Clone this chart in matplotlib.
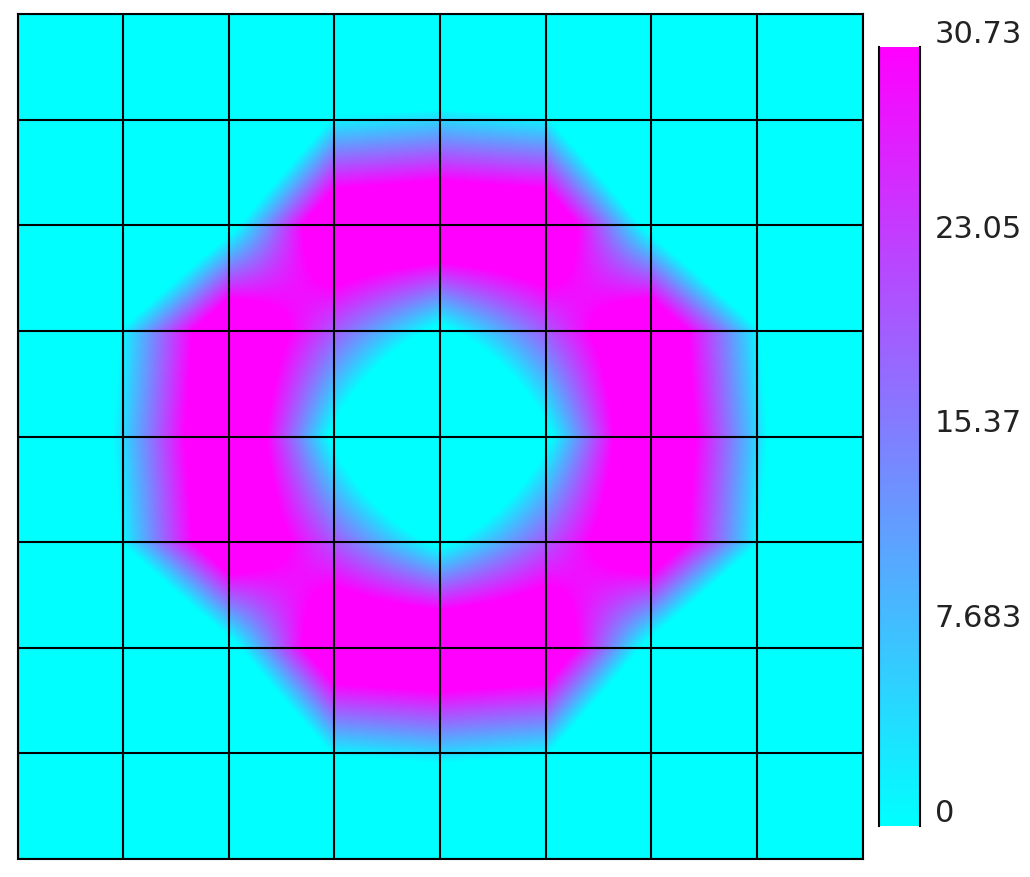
import numpy as np
import matplotlib
matplotlib.use("Agg")
import matplotlib.pyplot as plt

# field values at the 9x9 grid nodes (row lines top to bottom, column lines left to right)
nodes = [
    [-46, -46, -46, -46, -46, -46, -46, -46, -46],
    [-46, -46, -46, 1.5, 5, 1.5, -46, -46, -46],
    [-46, -46, -5, 46, 49, 46, -5, -46, -46],
    [-46, 1.5, 46, 20, -3, 20, 46, 1.5, -46],
    [-46, 5, 49, -3, -46, -3, 49, 5, -46],
    [-46, 1.5, 46, 20, -3, 20, 46, 1.5, -46],
    [-46, -46, -5, 46, 49, 46, -5, -46, -46],
    [-46, -46, -46, 1.5, 5, 1.5, -46, -46, -46],
    [-46, -46, -46, -46, -46, -46, -46, -46, -46],
]
vmin, vmax = 0.0, 30.73
cbar_ticks = [0, 7.683, 15.37, 23.05, 30.73]
cbar_labels = ["0", "7.683", "15.37", "23.05", "30.73"]

data = np.array(nodes, dtype=float)
n = data.shape[0] - 1  # number of cells per side

fig = plt.figure(figsize=(10.30, 8.78), dpi=100)
ax = fig.add_axes([0.0165, 0.0205, 0.8214, 0.9624])
im = ax.imshow(data, cmap="cool", vmin=vmin, vmax=vmax,
               interpolation="bilinear", interpolation_stage="data",
               extent=(-0.5, n + 0.5, n + 0.5, -0.5))
ax.hlines(np.arange(n + 1), 0, n, colors="black", lw=1.5)
ax.vlines(np.arange(n + 1), 0, n, colors="black", lw=1.5)
ax.set_xlim(0, n)
ax.set_ylim(n, 0)
ax.set_xticks([])
ax.set_yticks([])
for s in ax.spines.values():
    s.set_linewidth(1.5)

cax = fig.add_axes([0.8534, 0.0581, 0.0398, 0.8872])
cb = fig.colorbar(im, cax=cax)
cb.outline.set_visible(False)
cax.plot([0, 0], [0, 1], color="black", lw=1.5, transform=cax.transAxes, clip_on=False)
cax.plot([1, 1], [0, 1], color="black", lw=1.5, transform=cax.transAxes, clip_on=False)
cb.set_ticks(cbar_ticks)
cb.set_ticklabels([""] * len(cbar_ticks))
cax.tick_params(length=0)
for v, lbl in zip(cbar_ticks, cbar_labels):
    cax.annotate(lbl, xy=(1, v), xycoords=("axes fraction", "data"),
                 xytext=(15, 5), textcoords="offset pixels",
                 ha="left", va="baseline", fontsize=22, color="#222222")

fig.savefig("out.png", dpi=100)
